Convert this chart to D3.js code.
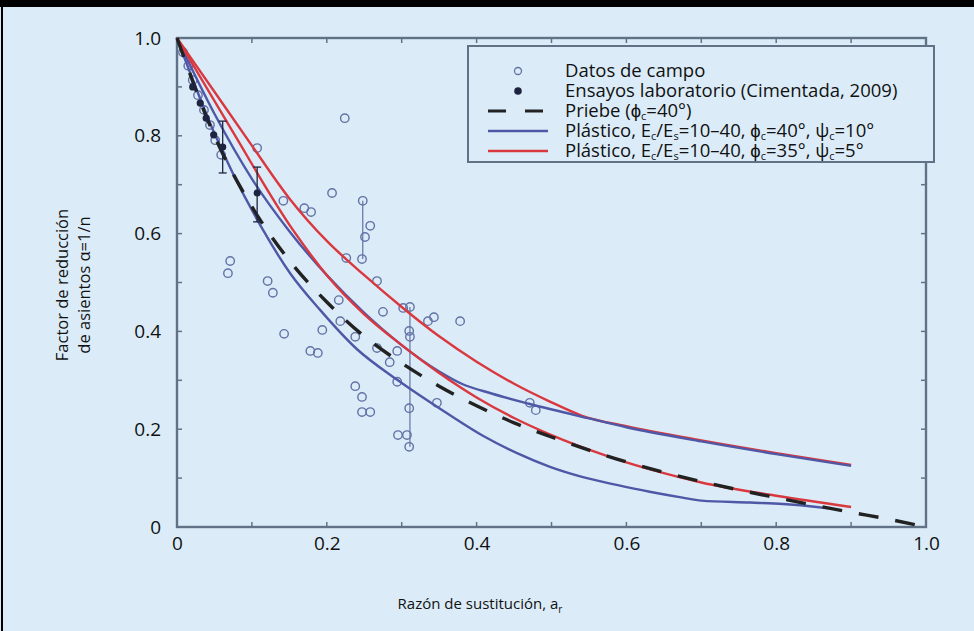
<!DOCTYPE html>
<meta charset="utf-8">
<script src="https://d3js.org/d3.v7.min.js"></script>
<style>
  body { margin: 0; background: #dbecf8; }
  text { font-family: "Open Sans", sans-serif; fill: #111; }
</style>
<div id="chart"></div>
<script>

// ---- data ----
var xTicks = [0, 0.2, 0.4, 0.6, 0.8, 1.0];
var xTickLabels = ["0", "0.2", "0.4", "0.6", "0.8", "1.0"];
var yTicks = [0, 0.2, 0.4, 0.6, 0.8, 1.0];
var yTickLabels = ["0", "0.2", "0.4", "0.6", "0.8", "1.0"];
var minorTicks = [0, 0.1, 0.2, 0.3, 0.4, 0.5, 0.6, 0.7, 0.8, 0.9, 1.0];

// field data (open circles): [a_r, alpha]
var campo = [
  [0.224, 0.836], [0.207, 0.683], [0.142, 0.667], [0.170, 0.652], [0.179, 0.644],
  [0.248, 0.667], [0.258, 0.616], [0.251, 0.593], [0.247, 0.548], [0.226, 0.550],
  [0.267, 0.503], [0.107, 0.775], [0.071, 0.544], [0.068, 0.519], [0.121, 0.503],
  [0.128, 0.479], [0.216, 0.464], [0.218, 0.421], [0.275, 0.440], [0.302, 0.448],
  [0.311, 0.450], [0.310, 0.401], [0.311, 0.389], [0.335, 0.421], [0.343, 0.429],
  [0.378, 0.421], [0.143, 0.395], [0.194, 0.403], [0.178, 0.360], [0.188, 0.356],
  [0.238, 0.389], [0.267, 0.366], [0.294, 0.360], [0.284, 0.337], [0.294, 0.297],
  [0.238, 0.288], [0.247, 0.266], [0.247, 0.235], [0.258, 0.235], [0.310, 0.243],
  [0.347, 0.254], [0.295, 0.188], [0.307, 0.188], [0.310, 0.164], [0.471, 0.254],
  [0.479, 0.239], [0.008, 0.971], [0.015, 0.943], [0.021, 0.914], [0.028, 0.883],
  [0.036, 0.853], [0.044, 0.822], [0.051, 0.791], [0.059, 0.761]
];
// vertical links between field readings at the same site: [a_r, low, high]
var campoRanges = [[0.248, 0.548, 0.667], [0.311, 0.164, 0.450]];

// laboratory tests (filled dots): [a_r, alpha]
var laboratorio = [[0.061, 0.777], [0.107, 0.683], [0.021, 0.900], [0.031, 0.867], [0.039, 0.836], [0.049, 0.802]];
// error bars: [a_r, low, high]
var labErrores = [[0.061, 0.724, 0.830], [0.107, 0.624, 0.736]];

// Priebe (phi_c = 40)
var priebe = [
  [0, 1], [0.05, 0.80], [0.1, 0.655], [0.15, 0.545], [0.2, 0.46], [0.25, 0.39],
  [0.3, 0.335], [0.35, 0.288], [0.4, 0.248], [0.45, 0.213], [0.5, 0.184],
  [0.6, 0.133], [0.7, 0.093], [0.8, 0.06], [0.9, 0.03], [0.95, 0.016], [1.0, 0]
];
// plastic, phi_c = 40, psi_c = 10 (two Ec/Es limits)
var azulAlto = [
  [0, 1], [0.05, 0.845], [0.1, 0.712], [0.15, 0.605], [0.2, 0.515], [0.25, 0.438],
  [0.3, 0.372], [0.35, 0.318], [0.38, 0.293], [0.42, 0.273], [0.47, 0.252],
  [0.55, 0.222], [0.6, 0.204], [0.7, 0.175], [0.8, 0.149], [0.9, 0.125]
];
var azulBajo = [
  [0, 1], [0.048, 0.812], [0.115, 0.607], [0.151, 0.519], [0.191, 0.444],
  [0.240, 0.364], [0.294, 0.301], [0.360, 0.233], [0.409, 0.186], [0.454, 0.151],
  [0.498, 0.123], [0.542, 0.102], [0.587, 0.086], [0.631, 0.072], [0.675, 0.060],
  [0.70, 0.054], [0.765, 0.050], [0.809, 0.047], [0.854, 0.041], [0.87, 0.038]
];
// plastic, phi_c = 35, psi_c = 5
var rojoAlto = [
  [0, 1], [0.05, 0.89], [0.1, 0.78], [0.15, 0.672], [0.2, 0.585], [0.25, 0.515],
  [0.3, 0.45], [0.35, 0.39], [0.4, 0.338], [0.45, 0.293], [0.5, 0.255],
  [0.54, 0.228], [0.6, 0.206], [0.7, 0.177], [0.8, 0.151], [0.9, 0.127]
];
var rojoBajo = [
  [0, 1], [0.073, 0.812], [0.155, 0.607], [0.2, 0.515], [0.25, 0.435],
  [0.3, 0.372], [0.35, 0.315], [0.4, 0.265], [0.45, 0.223], [0.5, 0.188],
  [0.55, 0.158], [0.6, 0.132], [0.65, 0.110], [0.7, 0.091], [0.8, 0.064], [0.9, 0.041]
];

var azul = "#4e58a6", rojo = "#d9383f", gris = "#627286", circulo = "#6272a6";

// ---- svg ----
var W = 974, H = 631;
var svg = d3.select("#chart")
  .append("svg")
    .attr("width", W)
    .attr("height", H);

// frame of the figure: thick bar on top, thin rule on the left
svg.append("rect").attr("x", 0).attr("y", 0).attr("width", W).attr("height", 7).attr("fill", "#000");
svg.append("rect").attr("x", 1).attr("y", 0).attr("width", 2).attr("height", H).attr("fill", "#000");

var x = d3.scaleLinear().domain([0, 1]).range([177, 926]);
var y = d3.scaleLinear().domain([0, 1]).range([527, 38]);

// tick labels
svg.append("g")
    .attr("transform", "translate(0," + y(0) + ")")
    .style("font-size", "19px")
    .call(d3.axisBottom(x).tickValues(xTicks).tickSize(0).tickPadding(10)
      .tickFormat(function(d, i) { return xTickLabels[i]; }))
    .call(function(g) { g.select(".domain").remove(); });

svg.append("g")
    .attr("transform", "translate(" + x(0) + ",0)")
    .style("font-size", "19px")
    .call(d3.axisLeft(y).tickValues(yTicks).tickSize(0).tickPadding(16)
      .tickFormat(function(d, i) { return yTickLabels[i]; }))
    .call(function(g) { g.select(".domain").remove(); });

svg.selectAll(".tick text").style("font-family", "Open Sans").style("fill", "#111");

// box around the plot
svg.append("rect")
    .attr("x", x(0)).attr("y", y(1))
    .attr("width", x(1) - x(0)).attr("height", y(0) - y(1))
    .attr("fill", "none").attr("stroke", gris).attr("stroke-width", 2.4);

// inward minor ticks on the four sides
var tk = svg.append("g").attr("stroke", gris).attr("stroke-width", 1.5);
minorTicks.forEach(function(v) {
  tk.append("line").attr("x1", x(v)).attr("x2", x(v)).attr("y1", y(0)).attr("y2", y(0) - 5);
  tk.append("line").attr("x1", x(v)).attr("x2", x(v)).attr("y1", y(1)).attr("y2", y(1) + 5);
  tk.append("line").attr("x1", x(0)).attr("x2", x(0) + 5).attr("y1", y(v)).attr("y2", y(v));
  tk.append("line").attr("x1", x(1)).attr("x2", x(1) - 5).attr("y1", y(v)).attr("y2", y(v));
});

// axis titles
var xt = svg.append("text")
    .attr("x", 480).attr("y", 609)
    .attr("text-anchor", "middle")
    .style("font-size", "15px");
xt.append("tspan").text("Razón de sustitución, a");
xt.append("tspan").attr("dy", 4).style("font-size", "10px").text("r");

var yt = svg.append("text")
    .attr("transform", "translate(68,285) rotate(-90)")
    .attr("text-anchor", "middle")
    .style("font-size", "16.5px");
yt.append("tspan").attr("x", 0).attr("dy", 0).text("Factor de reducción");
yt.append("tspan").attr("x", 0).attr("dy", 22).text("de asientos α=1/n");

// ---- data marks ----
var line = d3.line()
  .x(function(d) { return x(d[0]); })
  .y(function(d) { return y(d[1]); })
  .curve(d3.curveMonotoneX);

// field data links
svg.selectAll("mylink")
  .data(campoRanges)
  .enter()
  .append("line")
    .attr("x1", function(d) { return x(d[0]); })
    .attr("x2", function(d) { return x(d[0]); })
    .attr("y1", function(d) { return y(d[1]); })
    .attr("y2", function(d) { return y(d[2]); })
    .attr("stroke", circulo)
    .attr("stroke-width", 1.2);

// field data circles
svg.selectAll("mycircle")
  .data(campo)
  .enter()
  .append("circle")
    .attr("cx", function(d) { return x(d[0]); })
    .attr("cy", function(d) { return y(d[1]); })
    .attr("r", 4.2)
    .attr("fill", "none")
    .attr("stroke", circulo)
    .attr("stroke-width", 1.4);

// curves (the two that end up overlapping are drawn red first)
svg.append("path").datum(rojoAlto).attr("d", line)
  .attr("fill", "none").attr("stroke", rojo).attr("stroke-width", 2.4);
svg.append("path").datum(azulAlto).attr("d", line)
  .attr("fill", "none").attr("stroke", azul).attr("stroke-width", 2.4);
svg.append("path").datum(azulBajo).attr("d", line)
  .attr("fill", "none").attr("stroke", azul).attr("stroke-width", 2.4);
svg.append("path").datum(rojoBajo).attr("d", line)
  .attr("fill", "none").attr("stroke", rojo).attr("stroke-width", 2.4);
svg.append("path").datum(priebe).attr("d", line)
  .attr("fill", "none").attr("stroke", "#222").attr("stroke-width", 3.4)
  .attr("stroke-dasharray", "20,17");

// lab error bars
var eb = svg.append("g").attr("stroke", "#1e2440").attr("stroke-width", 1.3);
labErrores.forEach(function(d) {
  eb.append("line").attr("x1", x(d[0])).attr("x2", x(d[0])).attr("y1", y(d[1])).attr("y2", y(d[2]));
  eb.append("line").attr("x1", x(d[0]) - 4).attr("x2", x(d[0]) + 4).attr("y1", y(d[1])).attr("y2", y(d[1]));
  eb.append("line").attr("x1", x(d[0]) - 4).attr("x2", x(d[0]) + 4).attr("y1", y(d[2])).attr("y2", y(d[2]));
});

// lab dots
svg.selectAll("mydot")
  .data(laboratorio)
  .enter()
  .append("circle")
    .attr("cx", function(d) { return x(d[0]); })
    .attr("cy", function(d) { return y(d[1]); })
    .attr("r", 3.6)
    .attr("fill", "#1e2440");

// ---- legend ----
var lg = svg.append("g");
lg.append("rect")
    .attr("x", 468).attr("y", 46)
    .attr("width", 466).attr("height", 116)
    .attr("fill", "#dbecf8")
    .attr("stroke", gris).attr("stroke-width", 2);

var rowY = [71, 91, 111, 131, 151];
var lx1 = 488, lx2 = 548, lmid = 518, tx = 565;

lg.append("circle").attr("cx", lmid).attr("cy", rowY[0]).attr("r", 3.5)
  .attr("fill", "none").attr("stroke", circulo).attr("stroke-width", 1.3);
lg.append("circle").attr("cx", lmid).attr("cy", rowY[1]).attr("r", 3.8).attr("fill", "#1e2440");
lg.append("line").attr("x1", lx1).attr("x2", lx2).attr("y1", rowY[2]).attr("y2", rowY[2])
  .attr("stroke", "#222").attr("stroke-width", 3.2).attr("stroke-dasharray", "18,19");
lg.append("line").attr("x1", lx1).attr("x2", lx2).attr("y1", rowY[3]).attr("y2", rowY[3])
  .attr("stroke", azul).attr("stroke-width", 2.6);
lg.append("line").attr("x1", lx1).attr("x2", lx2).attr("y1", rowY[4]).attr("y2", rowY[4])
  .attr("stroke", rojo).attr("stroke-width", 2.6);

// legend labels as runs of [text, subscript?]
var legendTexts = [
  [["Datos de campo", false]],
  [["Ensayos laboratorio (Cimentada, 2009)", false]],
  [["Priebe (ϕ", false], ["c", true], ["=40°)", false]],
  [["Plástico, E", false], ["c", true], ["/E", false], ["s", true], ["=10–40, ϕ", false], ["c", true], ["=40°, ψ", false], ["c", true], ["=10°", false]],
  [["Plástico, E", false], ["c", true], ["/E", false], ["s", true], ["=10–40, ϕ", false], ["c", true], ["=35°, ψ", false], ["c", true], ["=5°", false]]
];

legendTexts.forEach(function(runs, i) {
  var t = lg.append("text")
      .attr("x", tx).attr("y", rowY[i] + 6)
      .style("font-size", "18.5px");
  var sub = false;
  runs.forEach(function(r) {
    var ts = t.append("tspan").text(r[0]);
    if (r[1]) { ts.attr("dy", 3).style("font-size", "11px"); sub = true; }
    else if (sub) { ts.attr("dy", -3); sub = false; }
  });
});

</script>
